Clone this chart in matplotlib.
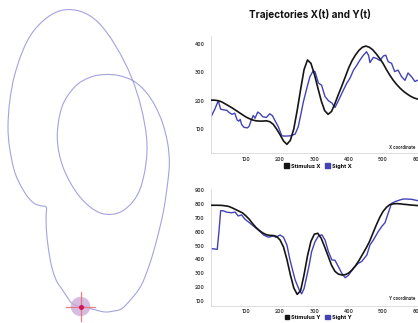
import numpy as np
import matplotlib as mpl
mpl.use('Agg')
import matplotlib.pyplot as plt
from matplotlib.patches import Patch, Circle, PathPatch
from matplotlib.path import Path

# stimulus trajectory, one reading every 10 time units
t_stim = list(range(0, 610, 10))
stim_x = [202, 202, 200, 196, 189, 182, 175, 167, 159, 151,
          143, 137, 132, 129, 128, 128, 129, 126, 117, 100,
          80, 58, 46, 60, 100, 166, 240, 310, 344, 332,
          294, 246, 200, 165, 152, 162, 190, 222, 252, 284,
          316, 342, 362, 378, 389, 393, 389, 380, 366, 350,
          332, 310, 290, 272, 257, 244, 233, 224, 216, 210, 206]
stim_y = [790, 790, 790, 789, 786, 782, 772, 760, 748, 736,
          715, 690, 658, 630, 608, 590, 578, 573, 572, 565,
          540, 490, 400, 290, 195, 148, 175, 290, 425, 530,
          582, 588, 552, 490, 425, 358, 314, 294, 288, 290,
          302, 325, 355, 392, 435, 478, 525, 585, 645, 700,
          745, 775, 795, 800, 802, 800, 797, 795, 792, 790, 788]

# gaze (sight) readings
t_sx = [0, 10, 20, 27, 35, 45, 52, 60, 68, 75, 80, 84, 88, 95, 105, 110, 115, 122,
        127, 135, 142, 150, 160, 170, 178, 186, 195, 205, 215, 230, 244, 253, 260,
        268, 278, 287, 297, 302, 312, 321, 331, 341, 351, 360, 370, 380, 394, 404,
        414, 424, 433, 443, 452, 458, 462, 472, 482, 491, 501, 508, 515, 525, 534,
        544, 554, 564, 573, 583, 593, 600]
sight_x = [146, 170, 200, 170, 168, 166, 158, 152, 156, 132, 128, 134, 116, 106, 104,
           110, 128, 148, 138, 160, 154, 143, 141, 154, 147, 128, 108, 76, 75, 76, 82,
           108, 148, 196, 244, 285, 306, 302, 262, 255, 215, 200, 192, 176, 200, 226,
           261, 280, 308, 326, 344, 361, 373, 360, 335, 353, 349, 342, 358, 361, 338,
           332, 303, 308, 285, 272, 298, 285, 268, 272]

t_sy = [0, 10, 17, 22, 27, 35, 45, 59, 69, 78, 88, 98, 113, 127, 142, 152, 166, 181,
        188, 200, 210, 220, 229, 244, 256, 263, 270, 278, 285, 292, 302, 312, 322,
        331, 341, 351, 360, 370, 380, 390, 399, 414, 428, 438, 453, 462, 472, 486,
        496, 506, 515, 525, 535, 549, 559, 569, 583, 600]
sight_y = [477, 475, 472, 600, 751, 750, 740, 736, 741, 713, 720, 689, 660, 631, 600,
           576, 560, 569, 559, 576, 560, 504, 396, 252, 180, 152, 190, 280, 360, 456,
           528, 569, 577, 540, 456, 396, 394, 348, 300, 268, 285, 336, 372, 385, 432,
           504, 540, 600, 636, 665, 732, 804, 816, 828, 835, 835, 833, 824]

x_ticks = [100, 200, 300, 400, 500, 600]
top_yticks = [100, 200, 300, 400]
bot_yticks = [100, 200, 300, 400, 500, 600, 700, 800, 900]

BLUE = '#4343b5'
BLACK = '#151515'
plt.rcParams['font.family'] = ['Inter', 'DejaVu Sans']

fig = plt.figure(figsize=(4.18, 3.23), dpi=100)
W, H = 418, 323


def smooth_path(xs, ys):
    # Catmull-Rom through the readings, drawn as cubic Bezier segments
    p = np.column_stack([xs, ys]).astype(float)
    ext = np.vstack([p[0], p, p[-1]])
    verts = [p[0]]
    codes = [Path.MOVETO]
    for i in range(len(p) - 1):
        c1 = ext[i + 1] + (ext[i + 2] - ext[i]) / 6
        c2 = ext[i + 2] - (ext[i + 3] - ext[i + 1]) / 6
        verts += [c1, c2, ext[i + 2]]
        codes += [Path.CURVE4] * 3
    return Path(verts, codes)


# left panel: stimulus path in screen coordinates
axp = fig.add_axes([0, 0, 185 / W, 1])
axp.add_patch(PathPatch(smooth_path(stim_x, stim_y), fill=False, edgecolor='#a3a3df', lw=0.8))
axp.set_xlim(28.8, 426.6)
axp.set_ylim(825.7, 126.5)
axp.axis('off')
cx, cy = stim_x[0], stim_y[0]
axp.add_patch(Circle((cx, cy), 21, color='#c7a6d6', alpha=0.75, lw=0, zorder=3))
axp.plot([cx - 32, cx + 32], [cy, cy], color='#e8707e', lw=0.9, alpha=0.9, zorder=4)
axp.plot([cx, cx], [cy - 32, cy + 32], color='#e8707e', lw=0.9, alpha=0.9, zorder=4)
axp.plot([cx], [cy], 'o', color='#d4145a', ms=2.6, zorder=5)

fig.text(310 / W, 1 - 14 / H, 'Trajectories X(t) and Y(t)', ha='center', va='center',
         fontsize=7.2, fontweight='bold', color='#111111')

xscale = 0.3432
left = 211.4 / W
width = 610 * xscale / W


def style(ax):
    for s in ['top', 'right']:
        ax.spines[s].set_visible(False)
    for s in ['left', 'bottom']:
        ax.spines[s].set_color('#d8d8d8')
        ax.spines[s].set_linewidth(0.6)
    ax.tick_params(length=0, labelsize=3.5, labelcolor='#444444')
    ax.tick_params(axis='y', pad=5)
    ax.tick_params(axis='x', pad=2.5)
    for lab in ax.get_xticklabels() + ax.get_yticklabels():
        lab.set_fontweight('bold')
    ax.set_xlim(0, 610)
    ax.set_xticks(x_ticks)


ax1 = fig.add_axes([left, 1 - 153.1 / H, width, 117.5 / H])
ax1.plot(t_stim, stim_x, color=BLACK, lw=1.2, zorder=3)
ax1.plot(t_sx, sight_x, color=BLUE, lw=1.0, zorder=2)
ax1.set_ylim(15, 430)
ax1.set_yticks(top_yticks)
style(ax1)
fig.text(415 / W, 1 - 147.7 / H, 'X coordinate', ha='right', va='center',
         fontsize=3.1, fontweight='bold', color='#333333')

ax2 = fig.add_axes([left, 1 - 305.9 / H, width, 116.6 / H])
ax2.plot(t_stim, stim_y, color=BLACK, lw=1.2, zorder=3)
ax2.plot(t_sy, sight_y, color=BLUE, lw=1.0, zorder=2)
ax2.set_ylim(65, 905)
ax2.set_yticks(bot_yticks)
style(ax2)
fig.text(415 / W, 1 - 299 / H, 'Y coordinate', ha='right', va='center',
         fontsize=3.1, fontweight='bold', color='#333333')

for label, yy in [('X', 166), ('Y', 317.5)]:
    handles = [Patch(color=BLACK, label='Stimulus ' + label),
               Patch(color=BLUE, label='Sight ' + label)]
    fig.legend(handles=handles, loc='center', bbox_to_anchor=(318 / W, 1 - yy / H),
               ncol=2, frameon=False, handlelength=0.8, handleheight=0.8,
               handletextpad=0.4, columnspacing=0.8, borderpad=0,
               prop={'weight': 'bold', 'size': 4.0})

fig.savefig('out.png', dpi=100)
